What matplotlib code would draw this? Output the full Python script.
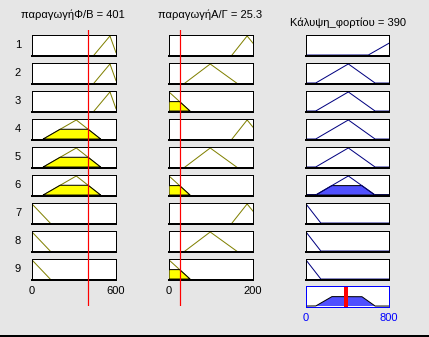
import matplotlib
matplotlib.use("Agg")
import matplotlib.pyplot as plt
from matplotlib.patches import Rectangle
import numpy as np

plt.rcParams['font.family'] = ['Liberation Sans', 'DejaVu Sans']

W, H, DPI = 429, 337, 100
PX = 72.0 / DPI  # points per pixel

# ---------------- data ----------------
rule_labels = ['1', '2', '3', '4', '5', '6', '7', '8', '9']

in1_name = "παραγωγήΦ/Β"
in1_value = 401
in1_range = [0, 600]
in1_mfs = {'low': [-130, 0, 130], 'mid': [80, 316, 490], 'high': [443, 557, 606]}

in2_name = "παραγωγήΑ/Γ"
in2_value = 25.3
in2_range = [0, 200]
in2_mfs = {'low': [-50, 0, 50], 'mid': [38, 98, 161], 'high': [150, 186, 223]}

out_name = "Κάλυψη_φορτίου"
out_value = 390
out_range = [0, 800]
out_mfs = {'low': [-142, 0, 142], 'mid': [93, 408, 665], 'high': [600, 923, 1250]}

rule_in1 = ['high', 'high', 'high', 'mid', 'mid', 'mid', 'low', 'low', 'low']
rule_in2 = ['high', 'mid', 'low', 'high', 'mid', 'low', 'high', 'mid', 'low']
rule_out = ['high', 'mid', 'mid', 'mid', 'mid', 'mid', 'low', 'low', 'low']

# ---------------- style ----------------
BG = '#e6e6e6'
IN_LINE = '#808000'
IN_FILL = '#ffff00'
OUT_LINE = '#000080'
OUT_FILL = '#5050ff'
RED = '#ff0000'


def trimf(x, p):
    a, b, c = p
    x = np.asarray(x, dtype=float)
    left = (x - a) / (b - a)
    right = (c - x) / (c - b)
    return np.clip(np.minimum(left, right), 0, 1)


def grid(lo, hi, p):
    pts = [v for v in p if lo <= v <= hi]
    return np.unique(np.concatenate([np.linspace(lo, hi, 801), pts]))


def fig_rect(x, y, w, h):
    return [x / W, 1 - (y + h) / H, w / W, h / H]


fig = plt.figure(figsize=(W / DPI, H / DPI), dpi=DPI, facecolor=BG)

col_x = [32, 169, 306]
col_w = [84, 84, 83]
row_top0, row_step, row_h = 35, 28, 21
YLIM = (-0.05, 1.05)


def style_ax(ax, bottom_lw=2):
    ax.set_facecolor('white')
    for s in ['top', 'left', 'right']:
        ax.spines[s].set_linewidth(1 * PX)
        ax.spines[s].set_color('black')
    ax.spines['bottom'].set_linewidth(bottom_lw * PX)
    ax.spines['bottom'].set_color('black')
    ax.set_yticks([])
    ax.set_ylim(*YLIM)


mu1 = {k: float(trimf(in1_value, v)) for k, v in in1_mfs.items()}
mu2 = {k: float(trimf(in2_value, v)) for k, v in in2_mfs.items()}
fire = [min(mu1[a], mu2[b]) for a, b in zip(rule_in1, rule_in2)]

inputs = [(in1_range, in1_mfs, rule_in1, in1_value),
          (in2_range, in2_mfs, rule_in2, in2_value)]

for i, lab in enumerate(rule_labels):
    top = row_top0 + row_step * i
    # input columns
    for c, (rng, mfs, rules, val) in enumerate(inputs):
        ax = fig.add_axes(fig_rect(col_x[c], top, col_w[c], row_h))
        style_ax(ax)
        ax.set_xlim(*rng)
        p = mfs[rules[i]]
        lo, hi = max(rng[0], p[0]), min(rng[1], p[2])
        x = grid(lo, hi, p)
        y = trimf(x, p)
        ax.plot(x, y, color=IN_LINE, lw=1 * PX, clip_on=True)
        m = float(trimf(val, p))
        if m > 0:
            yc = np.minimum(y, m)
            ax.fill(np.concatenate([x, [x[-1], x[0]]]),
                    np.concatenate([yc, [0, 0]]),
                    facecolor=IN_FILL, edgecolor='black', lw=1 * PX, zorder=3)
        if i == len(rule_labels) - 1:
            ax.set_xticks(rng)
            ax.tick_params(axis='x', length=0, pad=4, labelsize=8, colors='black')
        else:
            ax.set_xticks([])
        if c == 0:
            ax.text(-0.167, 0.5, lab, transform=ax.transAxes, ha='center',
                    va='center', fontsize=8)
    # output column
    ax = fig.add_axes(fig_rect(col_x[2], top, col_w[2], row_h))
    style_ax(ax)
    ax.set_xlim(*out_range)
    p = out_mfs[rule_out[i]]
    x = grid(out_range[0], out_range[1], p)
    y = trimf(x, p)
    if fire[i] > 0:
        yc = np.minimum(y, fire[i])
        ax.fill(np.concatenate([x, [x[-1], x[0]]]),
                np.concatenate([yc, [0, 0]]),
                facecolor=OUT_FILL, edgecolor='black', lw=1 * PX, zorder=1)
    ax.plot(x, y, color=OUT_LINE, lw=1 * PX, zorder=2)
    ax.set_xticks([])

# aggregated output
agg_top = 286
axa = fig.add_axes(fig_rect(col_x[2], agg_top, col_w[2], row_h))
axa.set_facecolor('white')
for s in axa.spines.values():
    s.set_color('#0000ff')
    s.set_linewidth(1 * PX)
axa.set_ylim(*YLIM)
axa.set_yticks([])
axa.set_xlim(*out_range)
xo = np.linspace(out_range[0], out_range[1], 1601)
agg = np.zeros_like(xo)
for i in range(len(rule_labels)):
    agg = np.maximum(agg, np.minimum(trimf(xo, out_mfs[rule_out[i]]), fire[i]))
axa.fill_between(xo, 0, agg, facecolor=OUT_FILL, edgecolor='none')
axa.plot(xo, agg, color='black', lw=1 * PX)
axa.axvline(out_value, color=RED, lw=4 * PX)
axa.set_xticks(out_range)
axa.tick_params(axis='x', length=0, pad=4, labelsize=8, colors='#0000ff')

# red vertical indicator lines across input columns
for c, (rng, mfs, rules, val) in enumerate(inputs):
    ov = fig.add_axes(fig_rect(col_x[c], 30, col_w[c], 276), zorder=10)
    ov.set_xlim(*rng)
    ov.set_ylim(0, 1)
    ov.axis('off')
    ov.patch.set_alpha(0)
    ov.axvline(val, color=RED, lw=1.2 * PX)

# titles
fig.text(73 / W, 1 - 15 / H, f"{in1_name} = {in1_value:g}", ha='center', va='center', fontsize=8)
fig.text(210 / W, 1 - 15 / H, f"{in2_name} = {in2_value:g}", ha='center', va='center', fontsize=8)
fig.text(348 / W, 1 - 22.5 / H, f"{out_name} = {out_value:g}", ha='center', va='center', fontsize=8)

# bottom window edge
fig.add_artist(Rectangle((0, 0), 1, 2 / H, transform=fig.transFigure,
                         facecolor='black', edgecolor='none'))

fig.savefig('out.png', dpi=DPI, facecolor=BG)
